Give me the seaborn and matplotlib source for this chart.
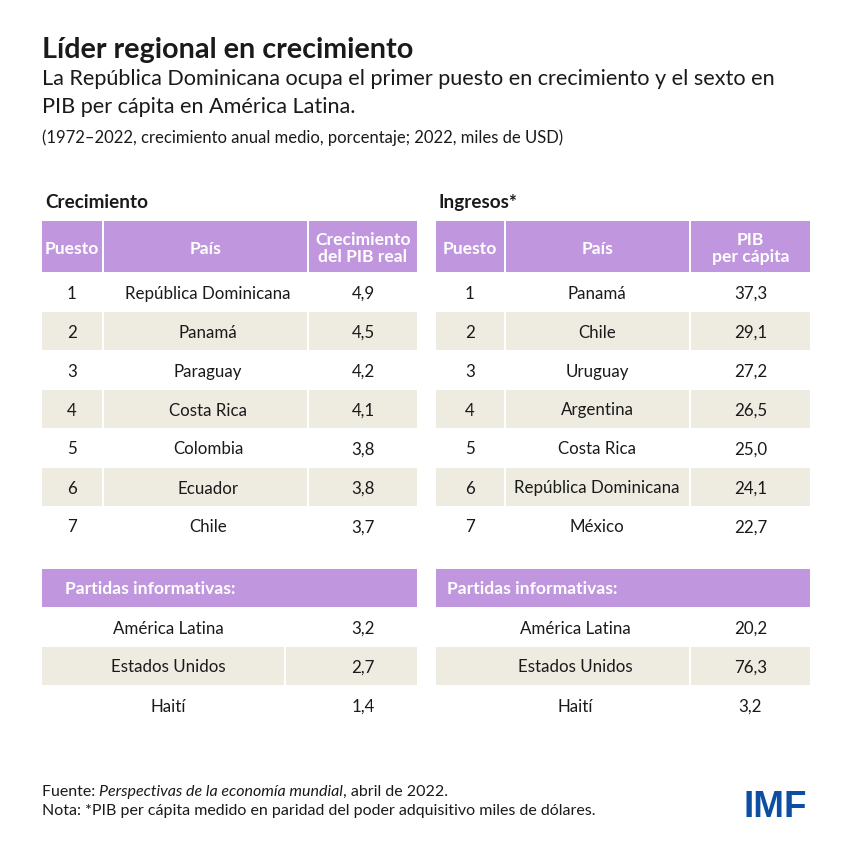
import matplotlib
matplotlib.use("Agg")
import matplotlib.pyplot as plt
from matplotlib.patches import Rectangle
import seaborn as sns

sns.set_theme(style="white")
plt.rcParams['font.family'] = ['Lato', 'DejaVu Sans']

# data
growth_rank = [1, 2, 3, 4, 5, 6, 7]
growth_country = ["República Dominicana", "Panamá", "Paraguay", "Costa Rica",
                  "Colombia", "Ecuador", "Chile"]
growth_value = [4.9, 4.5, 4.2, 4.1, 3.8, 3.8, 3.7]

income_rank = [1, 2, 3, 4, 5, 6, 7]
income_country = ["Panamá", "Chile", "Uruguay", "Argentina", "Costa Rica",
                  "República Dominicana", "México"]
income_value = [37.3, 29.1, 27.2, 26.5, 25.0, 24.1, 22.7]

memo_country = ["América Latina", "Estados Unidos", "Haití"]
memo_growth = [3.2, 2.7, 1.4]
memo_income = [20.2, 76.3, 3.2]

PURPLE = "#C096DE"
BEIGE = "#EEEBE1"
TEXT = "#1a1a1a"
BODY = 12.2
HEAD = 12.6


def fmt(v):
    return f"{v:.1f}".replace(".", ",")


def draw_table(ax, x0, cols, title, head_labels, ranks, names, values,
               memo_split, memo_names, memo_values, name_cx, memo_cx, memo_lx):
    edges = [x0] + cols
    ax.text(x0 + 4, 202, title, fontsize=13.6, fontweight="bold", color=TEXT,
            va="center", ha="left")
    # header row
    top, h = 222, 51
    for i in range(3):
        ax.add_patch(Rectangle((edges[i] + 1, top), edges[i + 1] - edges[i] - 2, h,
                               color=PURPLE, lw=0))
        ax.text((edges[i] + edges[i + 1]) / 2, top + h / 2 + 1, head_labels[i],
                fontsize=HEAD, fontweight="bold", color="white",
                ha="center", va="center", linespacing=1.1)
    # body rows
    rh = 39
    y = 274
    for k in range(len(ranks)):
        if k % 2 == 1:
            for i in range(3):
                ax.add_patch(Rectangle((edges[i] + 1, y), edges[i + 1] - edges[i] - 2, rh - 1,
                                       color=BEIGE, lw=0))
        cy = y + rh / 2
        ax.text((edges[0] + edges[1]) / 2, cy, str(ranks[k]), fontsize=BODY,
                color=TEXT, ha="center", va="center")
        ax.text(name_cx, cy, names[k], fontsize=BODY,
                color=TEXT, ha="center", va="center")
        ax.text((edges[2] + edges[3]) / 2, cy, fmt(values[k]), fontsize=BODY,
                color=TEXT, ha="center", va="center")
        y += rh
    # memo items
    mt = 570
    ax.add_patch(Rectangle((x0 + 1, mt), edges[3] - x0 - 2, 38, color=PURPLE, lw=0))
    ax.text(memo_lx, mt + 19, "Partidas informativas:",
            fontsize=HEAD, fontweight="bold", color="white", ha="left", va="center")
    y = 609
    for k in range(len(memo_names)):
        if k % 2 == 1:
            ax.add_patch(Rectangle((x0 + 1, y), memo_split - x0 - 2, rh - 1,
                                   color=BEIGE, lw=0))
            ax.add_patch(Rectangle((memo_split + 1, y), edges[3] - memo_split - 2, rh - 1,
                                   color=BEIGE, lw=0))
        cy = y + rh / 2
        ax.text(memo_cx, cy, memo_names[k], fontsize=BODY, color=TEXT,
                ha="center", va="center")
        ax.text((edges[2] + edges[3]) / 2, cy, fmt(memo_values[k]), fontsize=BODY,
                color=TEXT, ha="center", va="center")
        y += rh


fig = plt.figure(figsize=(8.53, 8.53), dpi=100)
ax = fig.add_axes([0, 0, 1, 1])
ax.set_xlim(0, 853)
ax.set_ylim(853, 0)
ax.axis("off")

ax.text(42, 58, "Líder regional en crecimiento", fontsize=20.7, fontweight="bold",
        color=TEXT, ha="left", va="baseline")
ax.text(42, 85, "La República Dominicana ocupa el primer puesto en crecimiento y el sexto en",
        fontsize=15.6, color=TEXT, ha="left", va="baseline")
ax.text(42, 113, "PIB per cápita en América Latina.",
        fontsize=15.6, color=TEXT, ha="left", va="baseline")
ax.text(42, 143, "(1972–2022, crecimiento anual medio, porcentaje; 2022, miles de USD)",
        fontsize=12.0, color=TEXT, ha="left", va="baseline")

draw_table(ax, 41, [103, 308, 418], "Crecimiento",
           ["Puesto", "País", "Crecimiento\ndel PIB real"],
           growth_rank, growth_country, growth_value,
           285, memo_country, memo_growth, 208, 168, 65)
draw_table(ax, 435, [505, 690, 811], "Ingresos*",
           ["Puesto", "País", "PIB\nper cápita"],
           income_rank, income_country, income_value,
           690, memo_country, memo_income, 597, 575, 447)

FOOT = 11.5
fig.canvas.draw()
r = fig.canvas.get_renderer()
inv = ax.transData.inverted()
t1 = ax.text(42, 796, "Fuente: ", fontsize=FOOT, color=TEXT, ha="left", va="baseline")
x1 = inv.transform((t1.get_window_extent(r).x1, 0))[0]
t2 = ax.text(x1, 796, "Perspectivas de la economía mundial", fontsize=FOOT,
             style="italic", color=TEXT, ha="left", va="baseline")
x2 = inv.transform((t2.get_window_extent(r).x1, 0))[0]
ax.text(x2, 796, ", abril de 2022.", fontsize=FOOT, color=TEXT, ha="left", va="baseline")
ax.text(42, 815, "Nota: *PIB per cápita medido en paridad del poder adquisitivo miles de dólares.",
        fontsize=FOOT, color=TEXT, ha="left", va="baseline")

ax.text(744, 817, "IMF", fontsize=26.5, fontweight="bold", color="#0B4EA2",
        family="Liberation Sans", ha="left", va="baseline")

fig.savefig("out.png", dpi=100)
